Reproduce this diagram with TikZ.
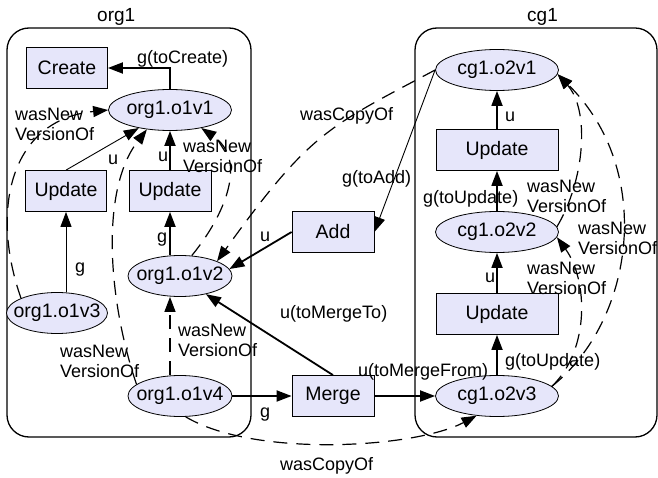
\documentclass[tikz,border=0pt]{standalone}
\usepackage{fontspec}
\setmainfont{Liberation Sans}
\usepackage{tikz}
\usetikzlibrary{shapes.geometric,arrows.meta}

\definecolor{nodefill}{RGB}{230,230,250}

\begin{document}
\begin{tikzpicture}[
  x=1pt, y=-1pt,
  mybox/.style={
    rectangle,
    fill=nodefill,
    draw,
    line width=0.8pt,
    inner sep=0pt,
    minimum height=41pt,
    font=\fontsize{19.5}{22}\selectfont
  },
  myell/.style={
    ellipse,
    fill=nodefill,
    draw,
    line width=0.8pt,
    inner xsep=-20pt,
    inner ysep=0pt,
    minimum height=41pt,
    font=\fontsize{19.5}{22}\selectfont
  },
  mylbl/.style={
    inner sep=0pt,
    anchor=north west,
    align=left,
    font=\fontsize{18}{20}\selectfont
  },
  mytitle/.style={
    inner sep=0pt,
    anchor=north west,
    font=\fontsize{19}{22}\selectfont
  },
  myedge/.style={-{Triangle[length=15pt,width=11pt]}, line width=1.8pt},
  mythin/.style={-{Triangle[length=15pt,width=11pt]}, line width=0.9pt},
  mydash/.style={-{Triangle[length=15pt,width=11pt]}, line width=1.2pt,
    dash pattern=on 14pt off 9pt}
]
\useasboundingbox (0,0) rectangle (658,478);

% the two groups
\draw[line width=1.3pt, rounded corners=22pt] (7,28) rectangle (251,437);
\draw[line width=1.3pt, rounded corners=22pt] (415,28) rectangle (657,437);
\node[mytitle] (torg) at (97,8) {org1};
\node[mytitle] (tcg) at (527,8) {cg1};

% org1
\node[mybox, minimum width=81pt] (create) at (67,68) {Create};
\node[myell, minimum width=123pt] (o1v1) at (170,110) {org1.o1v1};
\node[mybox, minimum width=81pt] (updl) at (66,191) {Update};
\node[mybox, minimum width=82pt] (updm) at (170,191) {Update};
\node[myell, minimum width=104pt] (o1v2) at (180,276) {org1.o1v2};
\node[myell, minimum width=101pt] (o1v3) at (57,313) {org1.o1v3};
\node[myell, minimum width=104pt] (o1v4) at (180,396) {org1.o1v4};

% between
\node[mybox, minimum width=82pt] (add) at (333,232) {Add};
\node[mybox, minimum width=82pt] (merge) at (333,396) {Merge};

% cg1
\node[myell, minimum width=123pt] (o2v1) at (497,70) {cg1.o2v1};
\node[mybox, minimum width=122pt] (updt) at (497,150) {Update};
\node[myell, minimum width=123pt] (o2v2) at (497,232) {cg1.o2v2};
\node[mybox, minimum width=122pt] (updb) at (497,314) {Update};
\node[myell, minimum width=123pt] (o2v3) at (497,396) {cg1.o2v3};

% solid edges
\draw[myedge] (o1v1.north) |- (create.east);
\draw[mythin] (updl.north) -- (o1v1.210);
\draw[myedge] (updm.north) -- (o1v1.south);
\draw[myedge] (updm.south |- o1v2.north) -- (updm.south);
\draw[mythin] (updl.south |- o1v3.north) -- (updl.south);
\draw[myedge] (add.west) -- (o1v2.8);
\draw[mythin] (o2v1.west) -- (add.east);
\draw[myedge] (merge.north) -- (o1v2.-35);
\draw[myedge] (o1v4.east) -- (merge.west);
\draw[myedge] (merge.east) -- (o2v3.west);
\draw[myedge] (o2v3.north) -- (updb.south);
\draw[myedge] (updb.north) -- (o2v2.south);
\draw[myedge] (o2v2.north) -- (updt.south);
\draw[myedge] (updt.north) -- (o2v1.south);

% dashed edges
\draw[mydash] (o1v3.north west) .. controls (-10,210) and (10,120) .. (o1v1.west);
\draw[mydash] (o1v4.165) .. controls (108,300) and (100,190) .. (o1v1.220);
\draw[mydash] (o1v2.60) .. controls (225,215) and (248,160) .. (o1v1.-30);
\draw[mydash] (updm.south |- o1v4.north) -- (updm.south |- o1v2.south);
\draw[mydash] (o2v1.west) .. controls (328,127) and (310,132) .. (o1v2.north east);
\draw[mydash] (o1v4.-75) .. controls (255,458) and (415,448) .. (o2v3.224);
\draw[mydash] (o2v2.5) .. controls (585,180) and (590,110) .. (o2v1.-4);
\draw[mydash] (o2v3.10) .. controls (590,350) and (588,280) .. (o2v2.-5);
\draw[mydash] (o2v3.10) .. controls (635,320) and (655,170) .. (o2v1.-4);

% edge labels
\node[mylbl] (lcreate) at (137,50) {g(toCreate)};
\node[mylbl] (lu1) at (108,155) {u};
\node[mylbl] (lu2) at (158,152) {u};
\node[mylbl] (lg1) at (157,233) {g};
\node[mylbl] (lg2) at (75,263) {g};
\node[mylbl] (lnv1) at (15,108) {wasNew\\VersionOf};
\node[mylbl] (lnv2) at (183,140) {wasNew\\VersionOf};
\node[mylbl] (lnv3) at (60,345) {wasNew\\VersionOf};
\node[mylbl] (lnv4) at (178,324) {wasNew\\VersionOf};
\node[mylbl] (lu3) at (260,232) {u};
\node[mylbl] (ladd) at (342,170) {g(toAdd)};
\node[mylbl] (lcopy1) at (300,107) {wasCopyOf};
\node[mylbl] (lmto) at (280,305) {u(toMergeTo)};
\node[mylbl] (lg3) at (260,408) {g};
\node[mylbl] (lmfrom) at (358,363) {u(toMergeFrom)};
\node[mylbl] (lcopy2) at (280,457) {wasCopyOf};
\node[mylbl] (lupd1) at (423,190) {g(toUpdate)};
\node[mylbl] (lu4) at (505,112) {u};
\node[mylbl] (lupd2) at (505,353) {g(toUpdate)};
\node[mylbl] (lu5) at (485,273) {u};
\node[mylbl] (lnv5) at (527,180) {wasNew\\VersionOf};
\node[mylbl] (lnv6) at (527,262) {wasNew\\VersionOf};
\node[mylbl] (lnv7) at (578,222) {wasNew\\VersionOf};
\end{tikzpicture}
\end{document}
